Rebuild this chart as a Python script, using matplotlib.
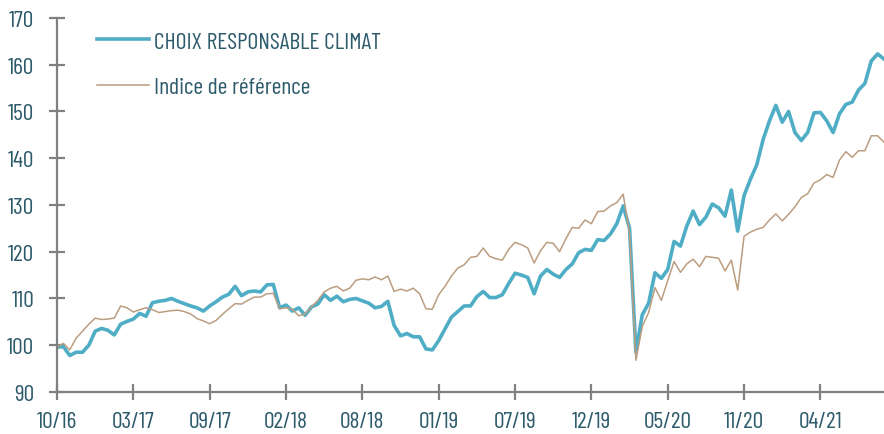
import matplotlib
matplotlib.use("Agg")
import matplotlib.pyplot as plt

plt.rcParams['font.family'] = ['Barlow Condensed', 'DejaVu Sans']

# fortnightly readings (x = week index, one point every 2 weeks)
weeks = list(range(0, 261, 2))

choix = [
    99.6, 99.7, 97.8, 98.5, 98.5, 100.0, 103.0, 103.6, 103.2, 102.2,
    104.5, 105.1, 105.6, 106.8, 106.2, 109.1, 109.4, 109.6, 110.0, 109.4,
    108.9, 108.4, 108.0, 107.3, 108.4, 109.3, 110.3, 110.9, 112.6, 110.6,
    111.4, 111.6, 111.4, 112.9, 113.0, 108.0, 108.6, 107.3, 108.0, 106.4,
    108.2, 108.8, 110.8, 109.6, 110.5, 109.3, 109.8, 110.0, 109.5, 109.0,
    108.0, 108.3, 109.4, 104.2, 102.0, 102.5, 101.8, 101.8, 99.2, 99.0,
    101.0, 103.5, 106.0, 107.2, 108.4, 108.4, 110.4, 111.5, 110.2, 110.2,
    110.8, 113.2, 115.4, 115.0, 114.5, 111.0, 114.8, 116.2, 115.2, 114.5,
    116.2, 117.4, 119.8, 120.5, 120.3, 122.6, 122.4, 123.8, 126.0, 129.8,
    125.0, 98.5, 106.5, 109.0, 115.5, 114.3, 116.2, 122.2, 121.2, 125.5,
    128.7, 125.8, 127.4, 130.2, 129.4, 127.6, 133.2, 124.4, 132.0, 135.5,
    138.6, 144.0, 148.0, 151.3, 147.7, 150.0, 145.5, 143.8, 145.5, 149.7,
    149.8, 148.0, 145.5, 149.5, 151.5, 152.0, 154.6, 156.0, 160.8, 162.3,
    161.2,
]

indice = [
    99.6, 100.4, 99.0, 101.5, 103.0, 104.5, 105.8, 105.5, 105.6, 105.8,
    108.4, 108.0, 107.1, 107.6, 108.0, 107.6, 107.0, 107.2, 107.4, 107.5,
    107.2, 106.7, 105.7, 105.2, 104.6, 105.3, 106.6, 107.8, 108.9, 108.8,
    109.6, 110.3, 110.3, 111.0, 111.1, 107.8, 108.0, 107.7, 106.3, 106.7,
    108.2, 109.6, 111.4, 112.2, 112.6, 111.6, 112.2, 113.9, 114.2, 114.0,
    114.6, 114.0, 114.8, 111.5, 112.0, 111.6, 112.2, 111.0, 107.8, 107.7,
    110.8, 112.6, 114.8, 116.5, 117.2, 118.8, 119.0, 120.8, 119.0, 118.5,
    118.2, 120.5, 122.0, 121.5, 120.8, 117.6, 120.2, 122.0, 121.8, 120.0,
    122.8, 125.2, 125.0, 126.8, 126.0, 128.6, 128.7, 129.8, 130.5, 132.3,
    124.0, 96.8, 104.0, 107.0, 112.3, 109.6, 113.8, 117.9, 115.6, 117.4,
    118.4, 116.8, 119.0, 118.8, 118.6, 115.9, 118.2, 111.8, 123.3, 124.2,
    124.8, 125.2, 126.8, 128.1, 126.6, 128.0, 129.6, 131.6, 132.4, 134.7,
    135.4, 136.5, 135.9, 139.6, 141.4, 140.2, 141.6, 141.6, 144.8, 144.8,
    143.4,
]

tick_weeks = list(range(0, 241, 24))
tick_labels = ['10/16', '03/17', '09/17', '02/18', '08/18', '01/19',
               '07/19', '12/19', '05/20', '11/20', '04/21']
y_ticks = list(range(90, 171, 10))

text_col = '#2D5B6B'
axis_col = '#808080'

fig = plt.figure(figsize=(8.84, 4.35), dpi=100)
ax = fig.add_axes([0.0645, 0.0966, 0.9355, 0.8598])

ax.plot(weeks, choix, color='#4FADC6', lw=2.6, label='CHOIX RESPONSABLE CLIMAT',
        solid_joinstyle='round')
ax.plot(weeks, indice, color='#BB9D80', lw=1.1, label='Indice de référence')

ax.set_xlim(0, 260)
ax.set_ylim(90, 170)
ax.set_xticks(tick_weeks)
ax.set_xticklabels(tick_labels)
ax.set_yticks(y_ticks)

for s in ['top', 'right']:
    ax.spines[s].set_visible(False)
for s in ['left', 'bottom']:
    ax.spines[s].set_color(axis_col)
    ax.spines[s].set_linewidth(1.6)

ax.tick_params(axis='both', direction='inout', length=11, width=1.6,
               color=axis_col, labelcolor=text_col, labelsize=17)
ax.tick_params(axis='y', pad=11)
ax.tick_params(axis='x', pad=8)

leg = ax.legend(loc='upper left', bbox_to_anchor=(0.0365, 0.99), frameon=False,
                fontsize=17, handlelength=2.2, handletextpad=0.25,
                labelspacing=1.0, borderaxespad=0)
for t in leg.get_texts():
    t.set_color(text_col)

fig.savefig('out.png', dpi=100)
